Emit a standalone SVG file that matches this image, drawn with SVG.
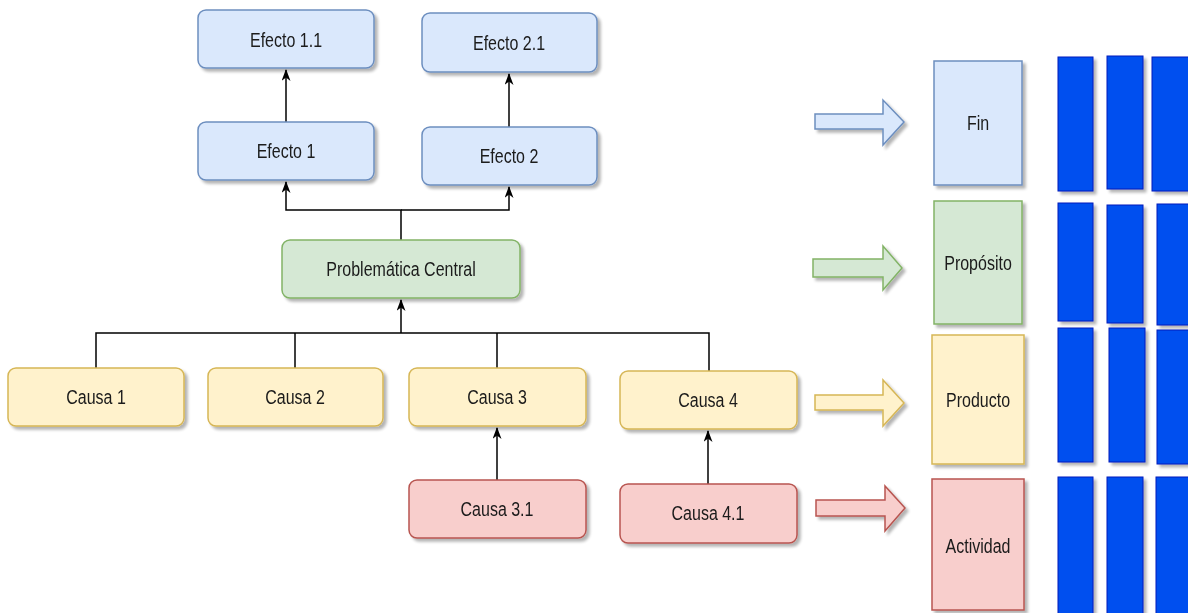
<svg xmlns="http://www.w3.org/2000/svg" width="1188" height="613" viewBox="0 0 1188 613">
<defs>
<filter id="sh" x="-20%" y="-20%" width="150%" height="150%">
<feGaussianBlur in="SourceAlpha" stdDeviation="1.8"/>
<feOffset dx="3" dy="3" result="b"/>
<feComponentTransfer><feFuncA type="linear" slope="0.3"/></feComponentTransfer>
<feMerge><feMergeNode/><feMergeNode in="SourceGraphic"/></feMerge>
</filter>
<marker id="ah" viewBox="0 0 12 9" refX="11" refY="4.5" markerWidth="12" markerHeight="9" markerUnits="userSpaceOnUse" orient="auto">
<path d="M0,0 L12,4.5 L0,9 L3.5,4.5 Z" fill="#000"/>
</marker>
</defs>
<style>
.b{fill:#dae8fc;stroke:#6c8ebf;stroke-width:1.5}
.g{fill:#d5e8d4;stroke:#82b366;stroke-width:1.5}
.y{fill:#fff2cc;stroke:#d6b656;stroke-width:1.5}
.r{fill:#f8cecc;stroke:#b85450;stroke-width:1.5}
.k{fill:#0050ef;stroke:#001dbc;stroke-width:1}
.n{filter:url(#sh)}
text{font-family:"Liberation Sans",Arial,sans-serif;font-size:20px;fill:#1a1a1a;text-anchor:middle}
.c{fill:none;stroke:#000;stroke-width:1.5}
</style>
<g id="connectors">
<path class="c" d="M401,240 V210 H286 V182" marker-end="url(#ah)"/>
<path class="c" d="M401,210 H509 V187" marker-end="url(#ah)"/>
<path class="c" d="M286,122 V70" marker-end="url(#ah)"/>
<path class="c" d="M509,127 V74" marker-end="url(#ah)"/>
<path class="c" d="M96,368 V333 H709 V371"/>
<path class="c" d="M295,368 V333"/>
<path class="c" d="M497,368 V333"/>
<path class="c" d="M401,333 V300" marker-end="url(#ah)"/>
<path class="c" d="M497,480 V428" marker-end="url(#ah)"/>
<path class="c" d="M708,484 V431" marker-end="url(#ah)"/>
</g>
<g id="efecto11" class="n"><rect class="b" x="198" y="10" width="176" height="58" rx="8"/><text transform="translate(286,47) scale(0.8,1)">Efecto 1.1</text></g>
<g id="efecto21" class="n"><rect class="b" x="422" y="13" width="175" height="59" rx="8"/><text transform="translate(509,50) scale(0.8,1)">Efecto 2.1</text></g>
<g id="efecto1" class="n"><rect class="b" x="198" y="122" width="176" height="58" rx="8"/><text transform="translate(286,158) scale(0.8,1)">Efecto 1</text></g>
<g id="efecto2" class="n"><rect class="b" x="422" y="127" width="175" height="58" rx="8"/><text transform="translate(509,163) scale(0.8,1)">Efecto 2</text></g>
<g id="problematica" class="n"><rect class="g" x="282" y="240" width="238" height="58" rx="8"/><text transform="translate(401,276) scale(0.8,1)">Problemática Central</text></g>
<g id="causa1" class="n"><rect class="y" x="8" y="368" width="176" height="58" rx="8"/><text transform="translate(96,404) scale(0.8,1)">Causa 1</text></g>
<g id="causa2" class="n"><rect class="y" x="208" y="368" width="175" height="58" rx="8"/><text transform="translate(295,404) scale(0.8,1)">Causa 2</text></g>
<g id="causa3" class="n"><rect class="y" x="409" y="368" width="177" height="58" rx="8"/><text transform="translate(497,404) scale(0.8,1)">Causa 3</text></g>
<g id="causa4" class="n"><rect class="y" x="620" y="371" width="177" height="58" rx="8"/><text transform="translate(708,407) scale(0.8,1)">Causa 4</text></g>
<g id="causa31" class="n"><rect class="r" x="409" y="480" width="177" height="58" rx="8"/><text transform="translate(497,516) scale(0.8,1)">Causa 3.1</text></g>
<g id="causa41" class="n"><rect class="r" x="620" y="484" width="177" height="59" rx="8"/><text transform="translate(708,520) scale(0.8,1)">Causa 4.1</text></g>
<g id="arrow-fin" class="n"><path class="b" d="M815,114 H883 V100 L904,122 L883,145 V129 H815 Z"/></g>
<g id="arrow-proposito" class="n"><path class="g" d="M813,259 H883 V246 L902,268 L883,290 V277 H813 Z"/></g>
<g id="arrow-producto" class="n"><path class="y" d="M815,395 H883 V380 L904,403 L883,426 V410 H815 Z"/></g>
<g id="arrow-actividad" class="n"><path class="r" d="M816,500 H885 V486 L905,508 L885,531 V516 H816 Z"/></g>
<g id="fin" class="n"><rect class="b" x="934" y="61" width="88" height="124"/><text transform="translate(978,130) scale(0.8,1)">Fin</text></g>
<g id="proposito" class="n"><rect class="g" x="934" y="201" width="88" height="123"/><text transform="translate(978,270) scale(0.8,1)">Propósito</text></g>
<g id="producto" class="n"><rect class="y" x="932" y="335" width="92" height="129"/><text transform="translate(978,407) scale(0.8,1)">Producto</text></g>
<g id="actividad" class="n"><rect class="r" x="932" y="479" width="92" height="131"/><text transform="translate(978,553) scale(0.8,1)">Actividad</text></g>
<g id="bars" class="n">
<rect class="k" x="1058" y="57" width="35" height="134"/>
<rect class="k" x="1107" y="56" width="36" height="133"/>
<rect class="k" x="1152" y="57" width="40" height="134"/>
<rect class="k" x="1058" y="203" width="35" height="118"/>
<rect class="k" x="1107" y="205" width="36" height="118"/>
<rect class="k" x="1157" y="204" width="35" height="121"/>
<rect class="k" x="1058" y="328" width="35" height="134"/>
<rect class="k" x="1109" y="328" width="36" height="134"/>
<rect class="k" x="1157" y="330" width="35" height="134"/>
<rect class="k" x="1058" y="477" width="35" height="140"/>
<rect class="k" x="1107" y="477" width="36" height="140"/>
<rect class="k" x="1156" y="477" width="36" height="140"/>
</g>
</svg>
